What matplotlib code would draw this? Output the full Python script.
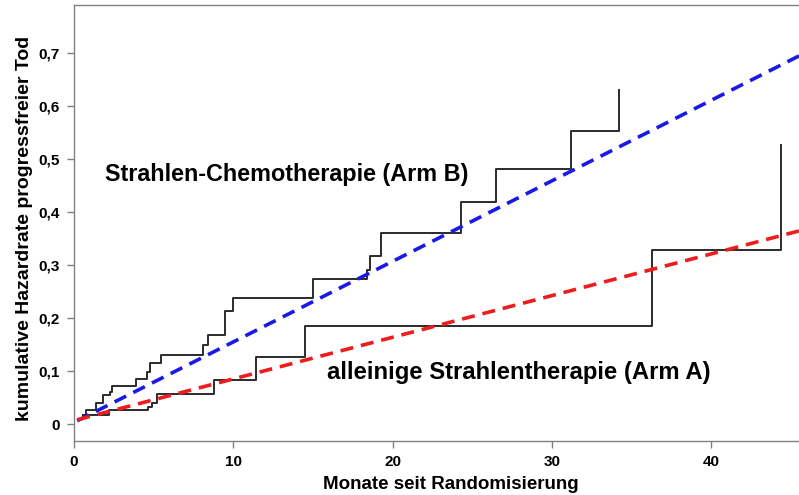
import matplotlib
matplotlib.use('Agg')
import matplotlib.pyplot as plt
from matplotlib.ticker import FixedLocator, FuncFormatter

plt.rcParams['font.family'] = ['Liberation Sans', 'DejaVu Sans']
plt.rcParams['font.weight'] = 'bold'

# Nelson-Aalen steps: event month and cumulative hazard after the event
armB_months = [0.54, 0.75, 1.38, 1.82, 2.25, 2.4, 3.9, 4.6, 4.8, 5.43, 8.1, 8.4,
               9.46, 9.95, 15.0, 18.4, 18.56, 19.25, 24.26, 26.5, 31.2, 34.2]
armB_hazard = [0.017, 0.026, 0.040, 0.055, 0.061, 0.072, 0.085, 0.099, 0.115, 0.130,
               0.149, 0.168, 0.214, 0.238, 0.274, 0.29, 0.316, 0.361, 0.418, 0.481,
               0.553, 0.630]

armA_months = [0.54, 2.2, 4.64, 4.9, 5.2, 8.8, 11.4, 14.5, 36.3, 44.4]
armA_hazard = [0.017, 0.026, 0.033, 0.040, 0.056, 0.083, 0.126, 0.185, 0.328, 0.526]

# fitted model lines (start / end)
fit_months = [0.2, 45.5]
fitB_hazard = [0.006, 0.694]
fitA_hazard = [0.008, 0.364]

label_B = 'Strahlen-Chemotherapie (Arm B)'
label_A = 'alleinige Strahlentherapie (Arm A)'

fig = plt.figure(figsize=(7.99, 4.95), dpi=100)
ax = fig.add_axes([74 / 799, 1 - 441 / 495, 1 - 74 / 799, (441 - 5) / 495])

step_color = '#2b2b2b'
ax.step(armB_months, armB_hazard, where='post', color=step_color, lw=1.4)
ax.step(armA_months, armA_hazard, where='post', color=step_color, lw=1.4)

ax.plot(fit_months, fitB_hazard, color='#1a1ae6', lw=2.6, dashes=(3.6, 2.2))
ax.plot(fit_months, fitA_hazard, color='#ee1c1c', lw=2.6, dashes=(3.6, 2.2))

ax.text(1.94, 0.470, label_B, fontsize=16.8, fontweight='bold', va='center', ha='left')
ax.text(15.9, 0.098, label_A, fontsize=17.2, fontweight='bold', va='center', ha='left')

ax.set_xlim(0, 45.5)
ax.set_ylim(-0.032, 0.79)

ax.xaxis.set_major_locator(FixedLocator([0, 10, 20, 30, 40]))
ax.yaxis.set_major_locator(FixedLocator([0, 0.1, 0.2, 0.3, 0.4, 0.5, 0.6, 0.7]))
ax.yaxis.set_major_formatter(FuncFormatter(lambda v, p: '0' if v == 0 else f'{v:.1f}'.replace('.', ',')))

ax.tick_params(axis='both', direction='out', length=5, width=1, color='#808080',
               labelsize=11, pad=5)
for lbl in ax.get_xticklabels() + ax.get_yticklabels():
    lbl.set_fontweight('bold')

for side in ['left', 'bottom', 'top']:
    ax.spines[side].set_color('#808080')
    ax.spines[side].set_linewidth(1)
ax.spines['right'].set_visible(False)

ax.set_xlabel('Monate seit Randomisierung', fontsize=13.5, fontweight='bold')
ax.xaxis.set_label_coords((451 - 74) / (799 - 74), -0.08)
ax.set_ylabel('kumulative Hazardrate progressfreier Tod', fontsize=14, fontweight='bold')
ax.yaxis.set_label_coords((33 - 74) / (799 - 74), (441 - 228) / 436)

fig.savefig('out.png', dpi=100)
